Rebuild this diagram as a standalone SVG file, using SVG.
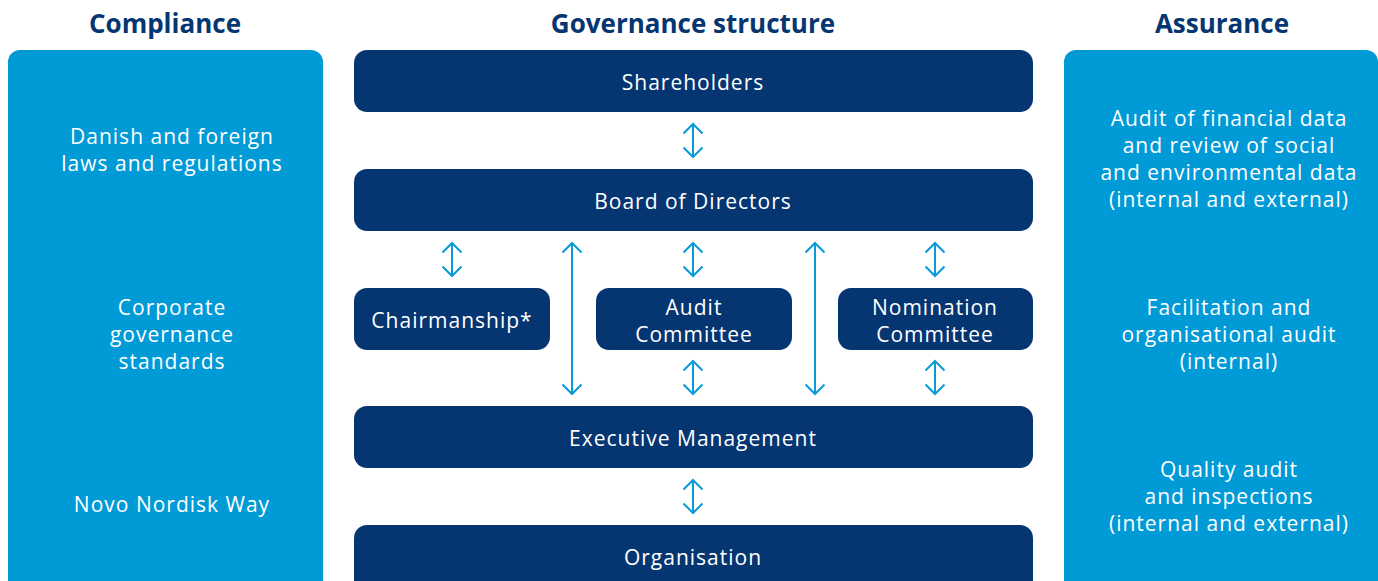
<svg xmlns="http://www.w3.org/2000/svg" width="1378" height="581" viewBox="0 0 1378 581">
<defs>
<style>
.panel{fill:#009ad7}
.box{fill:#053672}
.h{font-family:"Open Sans","Liberation Sans",sans-serif;font-weight:bold;font-size:26px;fill:#053672;text-anchor:middle}
.t{font-family:"Open Sans","Liberation Sans",sans-serif;font-size:21px;letter-spacing:1px;fill:#ffffff;text-anchor:middle}
.c{stroke:#0a9ad8;stroke-width:2;fill:none;marker-start:url(#ah);marker-end:url(#ah)}
</style>
<marker id="ah" viewBox="-12 -12 24 24" markerWidth="24" markerHeight="24" refX="0" refY="0" orient="auto-start-reverse" markerUnits="userSpaceOnUse">
<path d="M-9.5,-9.5 L0,0 L-9.5,9.5" fill="none" stroke="#0a9ad8" stroke-width="2"/>
</marker>
</defs>
<rect width="1378" height="581" fill="#ffffff"/>
<text class="h" x="165" y="33">Compliance</text>
<text class="h" x="693" y="33">Governance structure</text>
<text class="h" x="1222" y="33">Assurance</text>
<g id="compliance">
<rect class="panel" x="8" y="50" width="315" height="560" rx="12"/>
<text class="t" x="172" y="144">Danish and foreign</text>
<text class="t" x="172" y="171">laws and regulations</text>
<text class="t" x="172" y="315">Corporate</text>
<text class="t" x="172" y="342">governance</text>
<text class="t" x="172" y="369">standards</text>
<text class="t" x="172" y="512">Novo Nordisk Way</text>
</g>
<g id="assurance">
<rect class="panel" x="1064" y="50" width="314" height="560" rx="12"/>
<text class="t" x="1229" y="126">Audit of financial data</text>
<text class="t" x="1229" y="153">and review of social</text>
<text class="t" x="1229" y="180">and environmental data</text>
<text class="t" x="1229" y="207">(internal and external)</text>
<text class="t" x="1229" y="315">Facilitation and</text>
<text class="t" x="1229" y="342">organisational audit</text>
<text class="t" x="1229" y="369">(internal)</text>
<text class="t" x="1229" y="477">Quality audit</text>
<text class="t" x="1229" y="504">and inspections</text>
<text class="t" x="1229" y="531">(internal and external)</text>
</g>
<g id="shareholders"><rect class="box" x="354" y="50" width="679" height="62" rx="13"/><text class="t" x="693" y="90">Shareholders</text></g>
<g id="board"><rect class="box" x="354" y="169" width="679" height="62" rx="13"/><text class="t" x="693" y="209">Board of Directors</text></g>
<g id="chairmanship"><rect class="box" x="354" y="288" width="196" height="62" rx="13"/><text class="t" x="452" y="328">Chairmanship*</text></g>
<g id="audit"><rect class="box" x="596" y="288" width="196" height="62" rx="13"/><text class="t" x="694" y="315">Audit</text><text class="t" x="694" y="342">Committee</text></g>
<g id="nomination"><rect class="box" x="838" y="288" width="195" height="62" rx="13"/><text class="t" x="935" y="315">Nomination</text><text class="t" x="935" y="342">Committee</text></g>
<g id="executive"><rect class="box" x="354" y="406" width="679" height="62" rx="13"/><text class="t" x="693" y="446">Executive Management</text></g>
<g id="organisation"><rect class="box" x="354" y="525" width="679" height="70" rx="13"/><text class="t" x="693" y="565">Organisation</text></g>
<g id="connectors">
<line class="c" x1="693" y1="124" x2="693" y2="157"/>
<line class="c" x1="452" y1="243" x2="452" y2="276"/>
<line class="c" x1="693" y1="243" x2="693" y2="276"/>
<line class="c" x1="935" y1="243" x2="935" y2="276"/>
<line class="c" x1="572" y1="243" x2="572" y2="394"/>
<line class="c" x1="815" y1="243" x2="815" y2="394"/>
<line class="c" x1="693" y1="361" x2="693" y2="394"/>
<line class="c" x1="935" y1="361" x2="935" y2="394"/>
<line class="c" x1="693" y1="480" x2="693" y2="513"/>
</g>
</svg>
